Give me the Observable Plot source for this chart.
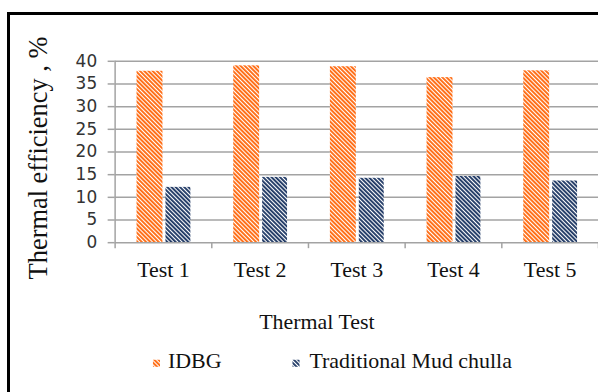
<!DOCTYPE html>
<html>
<head>
<meta charset="utf-8">
<script src="https://cdn.jsdelivr.net/npm/d3@7"></script>
<script src="https://cdn.jsdelivr.net/npm/@observablehq/plot@0.6"></script>
<style>
  html, body { margin: 0; padding: 0; background: #fff; overflow: hidden; width: 598px; height: 392px; }
  #wrap { position: relative; width: 598px; height: 392px; overflow: hidden; }
  #frame { position: absolute; left: 7px; top: 12px; width: 700px; height: 500px; border-top: 3px solid #000; border-left: 3px solid #000; box-sizing: border-box; }
  #chart { position: absolute; left: 0; top: 0; }
</style>
</head>
<body>
<svg width="0" height="0" style="position:absolute">
  <defs>
    <pattern id="pOrange" patternUnits="userSpaceOnUse" width="3" height="3" patternTransform="rotate(-45)">
      <rect width="3" height="3" fill="#fff"/>
      <rect width="1.9" height="3" fill="#ff6a10"/>
    </pattern>
    <pattern id="pNavy" patternUnits="userSpaceOnUse" width="3" height="3" patternTransform="rotate(-45)">
      <rect width="3" height="3" fill="#fff"/>
      <rect width="1.9" height="3" fill="#1f3864"/>
    </pattern>
  </defs>
</svg>
<div id="wrap">
  <div id="frame"></div>
  <div id="chart"></div>
</div>
<script>
const tests = ["Test 1", "Test 2", "Test 3", "Test 4", "Test 5"];
const idbg = [37.8, 39.0, 38.8, 36.4, 37.9];
const mud = [12.2, 14.4, 14.2, 14.6, 13.6];
const yTicks = [0, 5, 10, 15, 20, 25, 30, 35, 40];
const seriesNames = ["IDBG", "Traditional Mud chulla"];
const yTitle = "Thermal efficiency , %";
const xTitle = "Thermal Test";

const rows = tests.map((t, i) => ({i, test: t, idbg: idbg[i], mud: mud[i]}));
const bounds = d3.range(tests.length + 1);
const centers = tests.map((t, i) => i + 0.5);
const grid = "#a3a3a3";
const serif = "'Liberation Serif', 'Times New Roman', serif";

const chart = Plot.plot({
  width: 600,
  height: 392,
  marginTop: 61,
  marginBottom: 149,
  marginLeft: 115,
  marginRight: 0,
  style: {fontFamily: serif, color: "#111", background: "transparent"},
  x: {type: "linear", domain: [0, tests.length]},
  y: {domain: [0, 40]},
  marks: [
    Plot.ruleY(yTicks.filter(d => d > 0), {stroke: grid, strokeWidth: 1.5}),
    Plot.rectY(rows, {x1: d => d.i, x2: d => d.i + 1, y: "idbg", fill: "url(#pOrange)", insetLeft: 22, insetRight: 49}),
    Plot.rectY(rows, {x1: d => d.i, x2: d => d.i + 1, y: "mud", fill: "url(#pNavy)", insetLeft: 51, insetRight: 21}),
    Plot.ruleY([0], {stroke: grid, strokeWidth: 1.5}),
    Plot.ruleX([0], {y1: 0, y2: 40, stroke: grid, strokeWidth: 1.5}),
    Plot.axisY(yTicks, {tickSize: 7, tickPadding: 11, stroke: grid, strokeWidth: 1.5, fontSize: 17, fontFamily: "'DejaVu Sans', sans-serif", fill: "#333", label: null}),
    Plot.axisX(bounds, {tickSize: 6, tickFormat: () => "", stroke: grid, strokeWidth: 1.5, label: null}),
    Plot.axisX(centers, {tickSize: 0, tickPadding: 19, tickFormat: d => tests[Math.floor(d)], fontSize: 22, fontFamily: serif, fill: "#111", label: null}),
    Plot.text([yTitle], {frameAnchor: "left", textAnchor: "middle", dx: -77, dy: 6, rotate: -90, fontSize: 26.5, fontFamily: serif, fill: "#111"}),
    Plot.text([xTitle], {frameAnchor: "bottom", textAnchor: "middle", dx: -40, dy: 87, fontSize: 22, fontFamily: serif, fill: "#111"}),
    Plot.dot([seriesNames[0]], {frameAnchor: "bottom-left", dx: 41.5, dy: 121, symbol: "square", r: 4, fill: "url(#pOrange)", stroke: null}),
    Plot.text([seriesNames[0]], {frameAnchor: "bottom-left", textAnchor: "start", dx: 53, dy: 126, fontSize: 22, fontFamily: serif, fill: "#111"}),
    Plot.dot([seriesNames[1]], {frameAnchor: "bottom-left", dx: 181.5, dy: 121, symbol: "square", r: 4, fill: "url(#pNavy)", stroke: null}),
    Plot.text([seriesNames[1]], {frameAnchor: "bottom-left", textAnchor: "start", dx: 195, dy: 126, fontSize: 22, fontFamily: serif, fill: "#111"})
  ]
});
document.getElementById("chart").appendChild(chart);
</script>
</body>
</html>
